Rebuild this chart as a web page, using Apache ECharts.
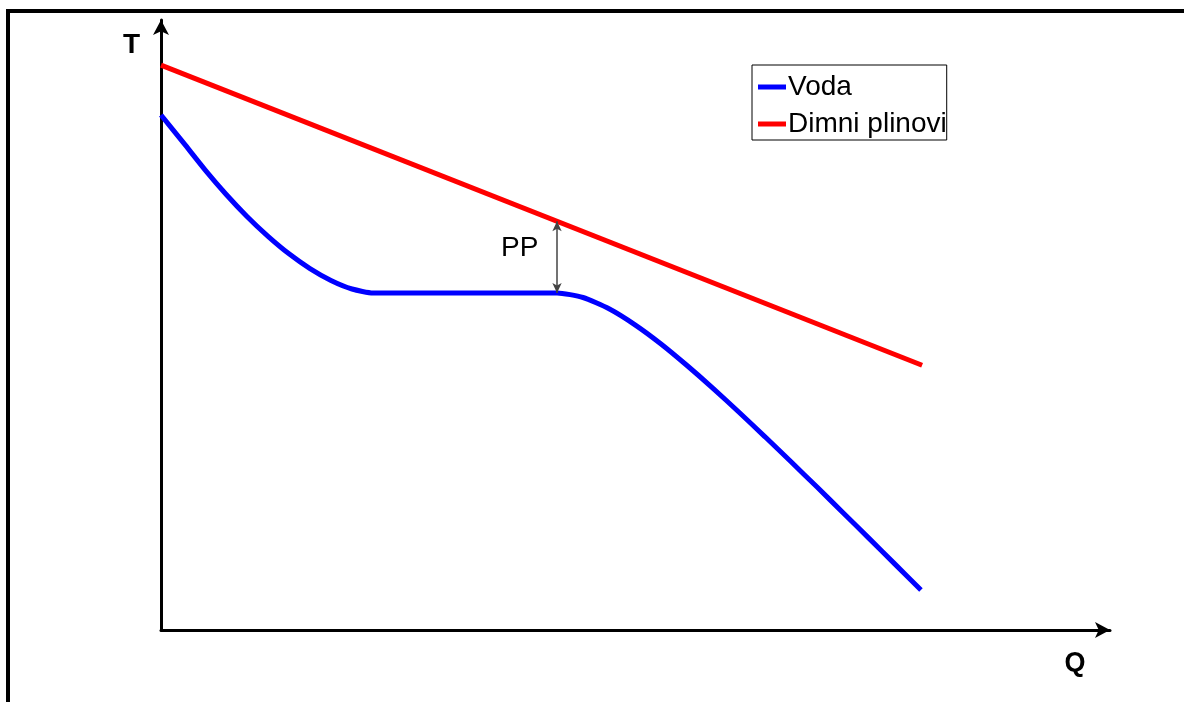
<!DOCTYPE html>
<html>
<head>
<meta charset="utf-8">
<script src="https://cdn.jsdelivr.net/npm/echarts@6/dist/echarts.min.js"></script>
<style>
html,body{margin:0;padding:0;background:#fff;}
#c{width:1184px;height:702px;}
</style>
</head>
<body>
<div id="c"></div>
<script>
// Data (Q on x axis, T on y axis, arbitrary units)
const seriesNames = ['Voda', 'Dimni plinovi'];
const vodaQ = [0, 2.42, 4.64, 6.85, 9.06, 11.28, 13.49, 15.7, 17.91, 20.13, 22.34,
               41.73, 44.47, 47.21, 49.95, 52.69, 55.43, 58.17, 60.91, 63.65, 66.39, 69.13, 71.87, 74.61, 77.34, 80.08];
const vodaT = [84.43, 79.77, 75.44, 71.44, 67.80, 64.54, 61.67, 59.25, 57.30, 55.90, 55.25,
               55.25, 54.51, 52.66, 50.03, 46.89, 43.36, 39.62, 35.70, 31.67, 27.57, 23.43, 19.23, 15.02, 10.80, 6.56];
const plinQ = [0, 80.2];
const plinT = [92.6, 43.4];
const ppQ = 41.73;
const ppLow = 55.25;
const ppHigh = 67.0;
const ppLabelPos = [37.8, 62.5];
const axisNames = ['Q', 'T'];

const chart = echarts.init(document.getElementById('c'));
const zip = (a, b) => a.map((v, i) => [v, b[i]]);

chart.setOption({
  animation: false,
  backgroundColor: '#fff',
  textStyle: {fontFamily: 'Liberation Sans, Arial, sans-serif'},
  grid: {left: 161, right: 74, top: 20, bottom: 72},
  graphic: [
    {type: 'line', shape: {x1: 6, y1: 11, x2: 1184, y2: 11}, style: {stroke: '#000', lineWidth: 4}},
    {type: 'line', shape: {x1: 8, y1: 9, x2: 8, y2: 702}, style: {stroke: '#000', lineWidth: 4}}
  ],
  legend: {
    orient: 'vertical',
    left: 752, top: 65,
    padding: [8, 0, 2, 6],
    borderColor: '#000', borderWidth: 1,
    itemGap: 9,
    itemWidth: 28, itemHeight: 5,
    itemStyle: {borderWidth: 0},
    icon: 'rect',
    textStyle: {fontSize: 28, color: '#000', padding: [0, 0, 0, -3]},
    data: seriesNames
  },
  xAxis: {
    type: 'value', min: 0, max: 100,
    name: axisNames[0], nameLocation: 'end', nameGap: -35,
    nameTextStyle: {fontSize: 27, fontWeight: 'bold', color: '#000', align: 'center', verticalAlign: 'top', padding: [20, 0, 0, 0]},
    axisLine: {lineStyle: {color: '#000', width: 3}, symbol: ['none', 'arrow'], symbolSize: [12, 15]},
    axisTick: {show: false}, axisLabel: {show: false}, splitLine: {show: false}
  },
  yAxis: {
    type: 'value', min: 0, max: 100,
    name: axisNames[1], nameLocation: 'end', nameGap: -25,
    nameTextStyle: {fontSize: 28, fontWeight: 'bold', color: '#000', align: 'right', verticalAlign: 'middle', padding: [0, 21, 0, 0]},
    axisLine: {lineStyle: {color: '#000', width: 3}, symbol: ['none', 'arrow'], symbolSize: [12, 15]},
    axisTick: {show: false}, axisLabel: {show: false}, splitLine: {show: false}
  },
  series: [
    {
      name: seriesNames[0], type: 'line', data: zip(vodaQ, vodaT),
      smooth: 0.2, showSymbol: false, symbol: 'none',
      lineStyle: {color: '#0000ff', width: 5}, itemStyle: {color: '#0000ff'},
      z: 3,
      markLine: {
        silent: true, symbol: ['arrow', 'arrow'], symbolSize: [7, 10],
        lineStyle: {color: '#444', width: 1.5, type: 'solid'},
        label: {show: false},
        data: [[{coord: [ppQ, ppLow]}, {coord: [ppQ, ppHigh]}]]
      },
      markPoint: {
        silent: true, symbol: 'circle', symbolSize: 0,
        label: {show: true, formatter: 'PP', fontSize: 28, color: '#000', position: 'inside'},
        data: [{coord: ppLabelPos}]
      }
    },
    {
      name: seriesNames[1], type: 'line', data: zip(plinQ, plinT),
      showSymbol: false, symbol: 'none',
      lineStyle: {color: '#ff0000', width: 5}, itemStyle: {color: '#ff0000'},
      z: 2
    }
  ]
});
</script>
</body>
</html>
